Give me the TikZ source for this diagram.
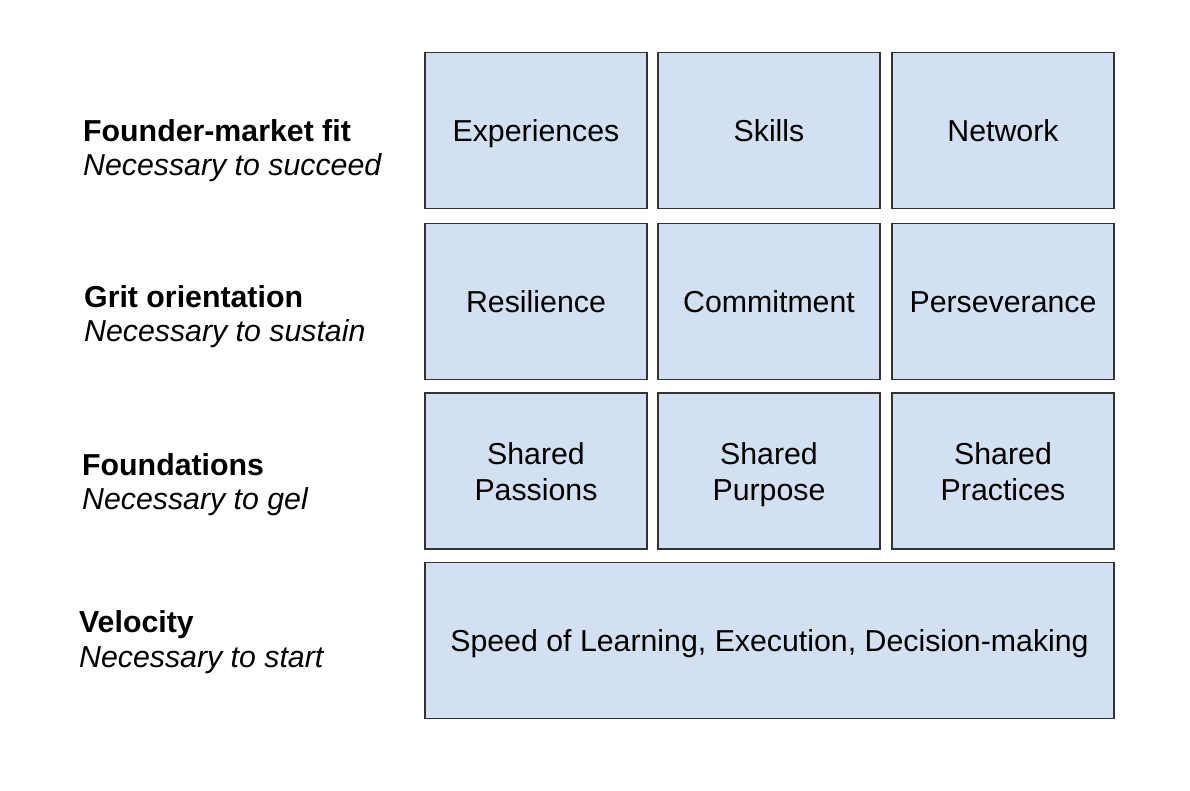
\documentclass[tikz,border=0pt]{standalone}
\usepackage{fontspec}
\setmainfont{Liberation Sans}
\definecolor{boxfill}{HTML}{D2E0F1}
\definecolor{boxline}{HTML}{333333}
\begin{document}
\begin{tikzpicture}[x=1pt,y=-1pt,
  cell/.style={draw=boxline,line width=1.6pt,fill=boxfill,inner sep=0pt,align=center,
    text height=27pt,text depth=6pt,minimum height=156pt,
    font=\fontsize{30.3}{35.5}\selectfont},
  twoline/.style={text height=64pt,text depth=6pt},
  small/.style={minimum width=222pt},
  head/.style={anchor=west,inner sep=0pt,text height=21pt,text depth=6pt,font=\fontsize{30.3}{35}\selectfont\bfseries},
  sub/.style={anchor=west,inner sep=0pt,text height=21pt,text depth=6pt,font=\fontsize{30.3}{35}\selectfont\itshape}]
\useasboundingbox (0,0) rectangle (1190,790);
% row 1
\node[cell,small] (exp) at (536,130.5) {Experiences};
\node[cell,small] (skl) at (769,130.5) {Skills};
\node[cell,small] (net) at (1003,130.5) {Network};
% row 2
\node[cell,small] (res) at (536,301.5) {Resilience};
\node[cell,small] (com) at (769,301.5) {Commitment};
\node[cell,small] (per) at (1003,301.5) {Perseverance};
% row 3
\node[cell,small,twoline] (spa) at (536,471) {Shared\\Passions};
\node[cell,small,twoline] (spu) at (769,471) {Shared\\Purpose};
\node[cell,small,twoline] (spr) at (1003,471) {Shared\\Practices};
% row 4
\node[cell,minimum width=689pt] (spd) at (769.5,640.5) {Speed of Learning, Execution, Decision-making};
% labels
\node[head] (h1) at (83,134) {Founder-market fit};
\node[sub] (s1) at (83,168) {Necessary to succeed};
\node[head] (h2) at (84,300) {Grit orientation};
\node[sub] (s2) at (84,334) {Necessary to sustain};
\node[head] (h3) at (82,468) {Foundations};
\node[sub] (s3) at (82,502) {Necessary to gel};
\node[head] (h4) at (79,625) {Velocity};
\node[sub] (s4) at (79,660) {Necessary to start};
\end{tikzpicture}
\end{document}
